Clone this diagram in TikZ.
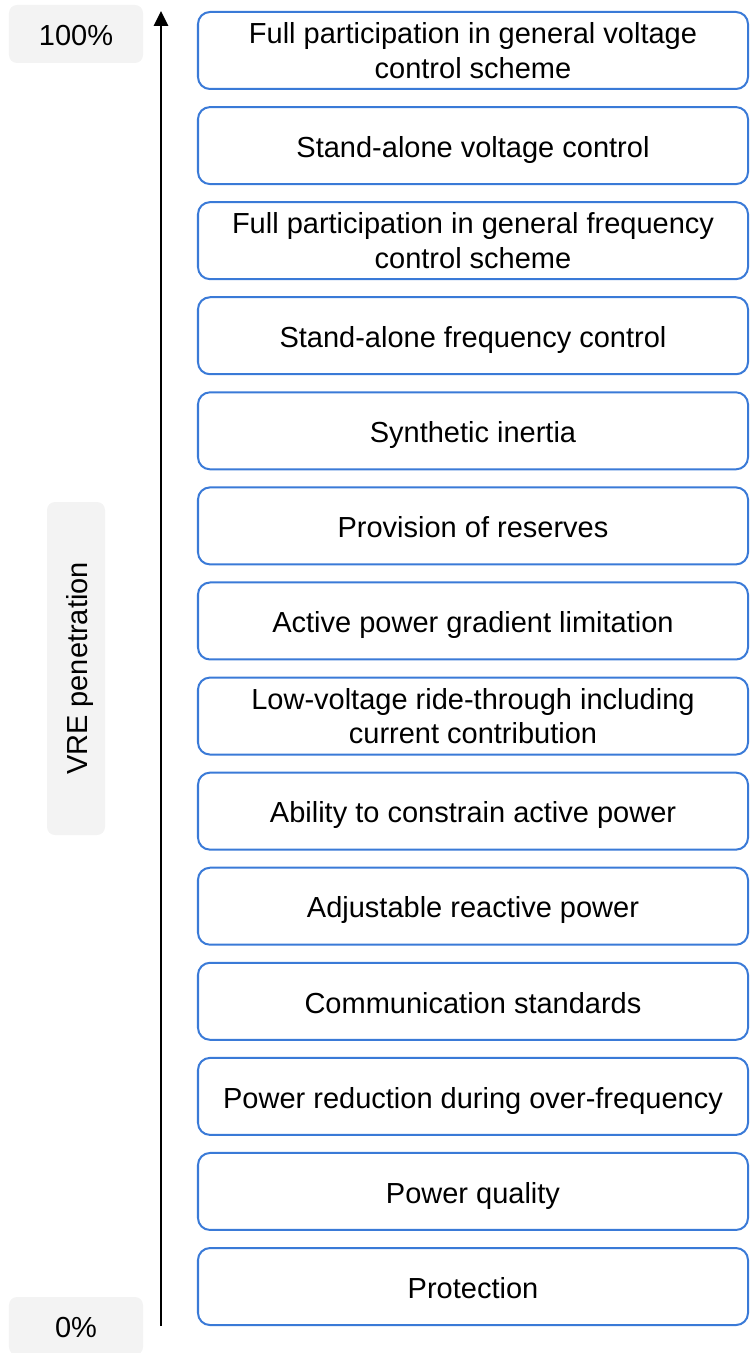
\documentclass[tikz,border=0pt]{standalone}
\usepackage{fontspec}
\setmainfont{Liberation Sans}
\usetikzlibrary{arrows.meta}
\definecolor{boxblue}{RGB}{58,122,215}
\definecolor{softgray}{RGB}{243,243,243}
\begin{document}
\begin{tikzpicture}[x=1bp,y=-1bp,
  txt/.style={font=\fontsize{29bp}{34.8bp}\selectfont, text=black},
  oneline/.style={text height=24bp, text depth=0.6bp},
  item/.style={txt, draw=boxblue, line width=2bp, rounded corners=12bp,
    minimum width=550bp, minimum height=77bp, align=center, inner sep=0pt},
  tag/.style={txt, oneline, fill=softgray, rounded corners=8bp, inner sep=0pt},
  axis/.style={line width=2.8bp, -{Triangle[length=15bp,width=14bp]}}]
\useasboundingbox (0,0) rectangle (750,1353);
\foreach \t/\s [count=\i from 0] in {
  {Full participation in general voltage\\control scheme}/{},
  {Stand-alone voltage control}/oneline,
  {Full participation in general frequency\\control scheme}/{},
  {Stand-alone frequency control}/oneline,
  {Synthetic inertia}/oneline,
  {Provision of reserves}/oneline,
  {Active power gradient limitation}/oneline,
  {Low-voltage ride-through including\\current contribution}/{},
  {Ability to constrain active power}/oneline,
  {Adjustable reactive power}/oneline,
  {Communication standards}/oneline,
  {Power reduction during over-frequency}/oneline,
  {Power quality}/oneline,
  {Protection}/oneline}
  \node[item, \s] (b\i) at (473, {50.5+\i*95.08}) {\t};
\node[tag, minimum width=134bp, minimum height=58bp] (top) at (76,34) {100\%};
\node[tag, minimum width=134bp, minimum height=58bp] (bot) at (76,1326) {0\%};
\node[tag, rotate=90, minimum width=333bp, minimum height=58bp] (vre) at (76,668.5) {VRE penetration};
\coordinate (abot) at (161,1326);
\coordinate (atop) at (161,11);
\draw[axis] (abot) -- (atop);
\end{tikzpicture}
\end{document}
